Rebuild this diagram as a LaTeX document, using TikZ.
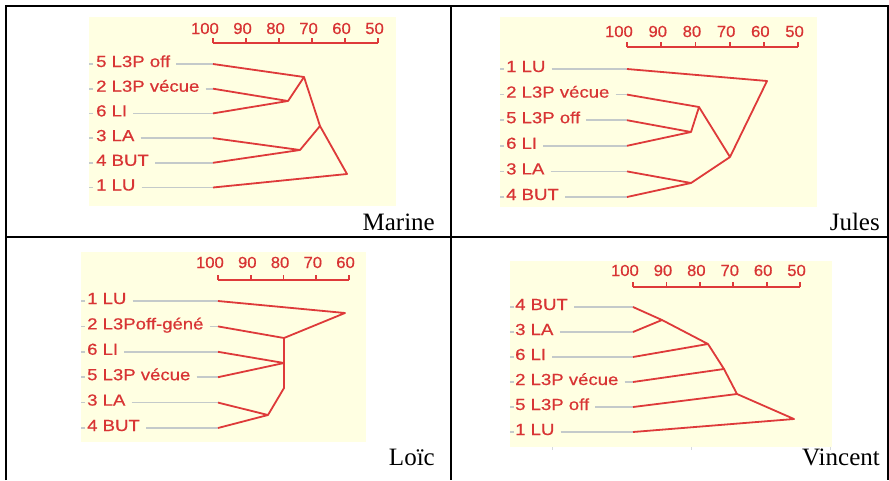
\documentclass[tikz,border=0pt]{standalone}
\usepackage{fontspec}
\newfontfamily\lblfont[FakeStretch=1.16,FakeBold=0.6]{Liberation Sans}
\newfontfamily\numfont[FakeStretch=1.04,FakeBold=0.6]{Liberation Sans}
\newfontfamily\capfont{Liberation Serif}
\definecolor{bgyel}{RGB}{255,255,226}
\definecolor{tred}{RGB}{216,52,52}
\definecolor{lred}{RGB}{222,58,58}
\definecolor{lgray}{RGB}{196,202,202}
\newcommand\dscale[6]{% #1 prefix, #2 x100, #3 step, #4 line y, #5 baseline, #6 last index
  \draw[redln] (#2,#4) -- ({#2+#6*#3},#4);
  \foreach \i in {0,...,#6}{%
    \pgfmathtruncatemacro\vv{100-10*\i}%
    \draw[redln] ({#2+\i*#3},#4) -- ({#2+\i*#3},#4-5);
    \node[num] (#1-\i) at ({#2+\i*#3+6},#5) {\vv};
  }%
}
\newcommand\leaf[6]{% #1 name, #2 dash x, #3 label x, #4 row y, #5 branch x, #6 text
  \draw[grayln] (#2,#4) -- ++(4,0);
  \node[lbl] (#1) at (#3,#4+3) {#6};
  \coordinate (#1-e) at (#5,#4);
  \draw[grayln] (#1.east |- #1-e) ++(6,0) -- (#1-e);
}
\begin{document}
\begin{tikzpicture}[x=1pt,y=-1pt,
  lbl/.style={font=\lblfont\fontsize{16}{16}\selectfont, text=tred, inner sep=0pt, anchor=base west},
  num/.style={font=\numfont\fontsize{16}{16}\selectfont, text=tred, inner sep=0pt, anchor=base east},
  captxt/.style={font=\capfont\fontsize{25}{25}\selectfont, inner sep=0pt, anchor=base east},
  grayln/.style={draw=lgray, line width=1.6pt},
  redln/.style={draw=lred, line width=1.8pt, line join=round},
  tbl/.style={draw=black, line width=2pt}]
\useasboundingbox (0,0) rectangle (889,480);

% backgrounds
\fill[bgyel] (89,17) rectangle (396,206);
\fill[bgyel] (500,17) rectangle (817,207);
\fill[bgyel] (81,252) rectangle (366,442);
\fill[bgyel] (510,261) rectangle (832,447);

% ---------------- Marine ----------------
\dscale{ms}{213}{33}{43}{34}{5}
\leaf{m5}{89}{96}{64}{213}{5 L3P off}
\leaf{m2}{89}{96}{88.7}{213}{2 L3P vécue}
\leaf{m6}{89}{96}{113.4}{213}{6 LI}
\leaf{m3}{89}{96}{138.1}{213}{3 LA}
\leaf{m4}{89}{96}{162.8}{213}{4 BUT}
\leaf{m1}{89}{96}{187.5}{213}{1 LU}
\coordinate (mj26) at (288,101);
\coordinate (mj526) at (304,77);
\coordinate (mj34) at (300,150);
\coordinate (mjmid) at (320,126);
\coordinate (mjall) at (347,174);
\draw[redln] (m2-e) -- (mj26) -- (m6-e);
\draw[redln] (m5-e) -- (mj526) -- (mj26);
\draw[redln] (m3-e) -- (mj34) -- (m4-e);
\draw[redln] (mj526) -- (mjmid) -- (mj34);
\draw[redln] (mjmid) -- (mjall) -- (m1-e);
\node[captxt] (capM) at (435,230) {Marine};

% ---------------- Jules ----------------
\dscale{js}{627}{34.2}{47}{37}{5}
\leaf{j1}{500}{506}{69}{627}{1 LU}
\leaf{j2}{500}{506}{94.6}{627}{2 L3P vécue}
\leaf{j5}{500}{506}{120.2}{627}{5 L3P off}
\leaf{j6}{500}{506}{145.8}{627}{6 LI}
\leaf{j3}{500}{506}{171.4}{627}{3 LA}
\leaf{j4}{500}{506}{197}{627}{4 BUT}
\coordinate (jj56) at (691,132);
\coordinate (jj256) at (699,107);
\coordinate (jj34) at (691,183);
\coordinate (jjmid) at (730,157);
\coordinate (jjall) at (767,81);
\draw[redln] (j5-e) -- (jj56) -- (j6-e);
\draw[redln] (j2-e) -- (jj256) -- (jj56);
\draw[redln] (j3-e) -- (jj34) -- (j4-e);
\draw[redln] (jj256) -- (jjmid) -- (jj34);
\draw[redln] (j1-e) -- (jjall) -- (jjmid);
\node[captxt] (capJ) at (880,230) {Jules};

% ---------------- Loic ----------------
\dscale{ls}{218}{32.75}{280}{268}{4}
\leaf{l1}{81}{87}{301}{218}{1 LU}
\leaf{l2}{81}{87}{326.4}{218}{2 L3Poff-géné}
\leaf{l6}{81}{87}{351.8}{218}{6 LI}
\leaf{l5}{81}{87}{377.2}{218}{5 L3P vécue}
\leaf{l3}{81}{87}{402.6}{218}{3 LA}
\leaf{l4}{81}{87}{428}{218}{4 BUT}
\coordinate (lvtop) at (284,338);
\coordinate (lj65) at (284,363);
\coordinate (lvbot) at (284,388);
\coordinate (lj34) at (268,415);
\coordinate (ljall) at (345,313);
\draw[redln] (l2-e) -- (lvtop) -- (lvbot) -- (lj34);
\draw[redln] (l6-e) -- (lj65) -- (l5-e);
\draw[redln] (l3-e) -- (lj34) -- (l4-e);
\draw[redln] (l1-e) -- (ljall) -- (lvtop);
\node[captxt] (capL) at (435,465) {Loïc};

% ---------------- Vincent ----------------
\dscale{vs}{633}{33.4}{287}{276}{5}
\leaf{v4}{510}{515}{307}{633}{4 BUT}
\leaf{v3}{510}{515}{332}{633}{3 LA}
\leaf{v6}{510}{515}{357}{633}{6 LI}
\leaf{v2}{510}{515}{382}{633}{2 L3P vécue}
\leaf{v5}{510}{515}{407}{633}{5 L3P off}
\leaf{v1}{510}{515}{432}{633}{1 LU}
\coordinate (vj43) at (662,320);
\coordinate (vj436) at (708,344);
\coordinate (vj4362) at (724,369);
\coordinate (vj43625) at (737,394);
\coordinate (vjall) at (794,419);
\draw[redln] (v4-e) -- (vj43) -- (v3-e);
\draw[redln] (vj43) -- (vj436) -- (v6-e);
\draw[redln] (vj436) -- (vj4362) -- (v2-e);
\draw[redln] (vj4362) -- (vj43625) -- (v5-e);
\draw[redln] (vj43625) -- (vjall) -- (v1-e);
\foreach \xx in {552,691,830} \draw[draw=lgray!70, line width=0.8pt] (\xx,447) -- (\xx,450);
\node[captxt] (capV) at (880,465) {Vincent};

% ---------------- table ----------------
\draw[tbl] (5.7,480) -- (5.7,5.8) -- (887.5,5.8) -- (887.5,480);
\draw[tbl] (5.7,237) -- (887.5,237);
\draw[tbl] (451,5.8) -- (451,480);
\end{tikzpicture}
\end{document}
